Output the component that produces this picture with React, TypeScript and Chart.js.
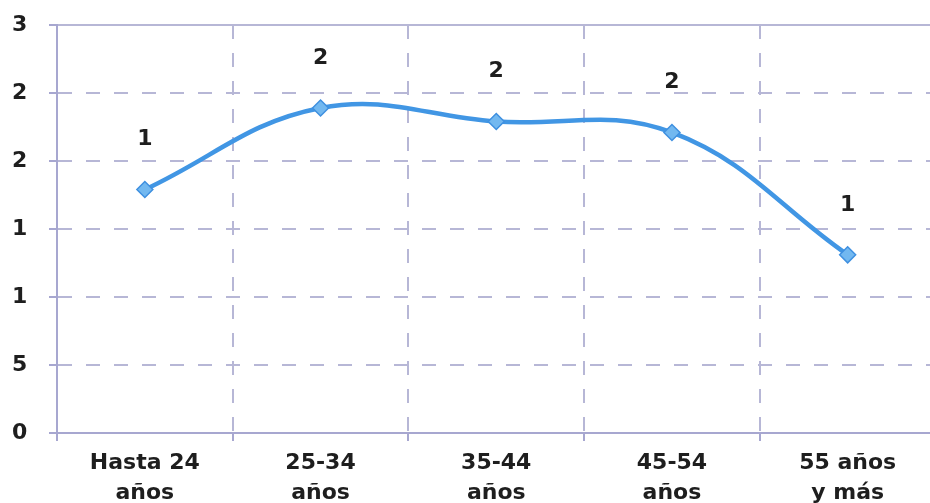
import React, { useEffect, useRef } from "react";
import { Chart, registerables } from "chart.js";

Chart.register(...registerables);

const categories: string[][] = [
  ["Hasta 24", "años"],
  ["25-34", "años"],
  ["35-44", "años"],
  ["45-54", "años"],
  ["55 años", "y más"],
];
const values: number[] = [1.79, 2.39, 2.29, 2.21, 1.31];
const dataLabels: string[] = ["1", "2", "2", "2", "1"];
const yTickLabels: string[] = ["0", "5", "1", "1", "2", "2", "3"];

const FONT = "'DejaVu Sans', 'Liberation Sans', Arial, sans-serif";
const GRID = "#b7b7d6";
const AXIS = "#a7a7d0";
const DASH = [14, 14];

const labelPlugin = {
  id: "pointLabels",
  afterDatasetsDraw(chart: any) {
    const ctx = chart.ctx;
    const meta = chart.getDatasetMeta(0);
    ctx.save();
    ctx.font = `bold 22px ${FONT}`;
    ctx.fillStyle = "#1e1e1e";
    ctx.textAlign = "center";
    ctx.textBaseline = "middle";
    meta.data.forEach((pt: any, i: number) => {
      ctx.fillText(dataLabels[i], pt.x, pt.y - 50);
    });
    ctx.restore();
  },
};

export default function App() {
  const ref = useRef<HTMLCanvasElement | null>(null);
  useEffect(() => {
    if (!ref.current) return;
    const chart = new Chart(ref.current, {
      type: "line",
      data: {
        labels: categories,
        datasets: [
          {
            data: values,
            borderColor: "#4196e4",
            borderWidth: 4.5,
            tension: 0.4,
            pointStyle: "rectRot",
            pointRadius: 8,
            pointBackgroundColor: "#72b8f0",
            pointBorderColor: "#3f90e0",
            pointBorderWidth: 1.5,
            fill: false,
          },
        ],
      },
      options: {
        animation: false,
        responsive: false,
        devicePixelRatio: 1,
        layout: { padding: { top: 25, right: 6.5, left: 12, bottom: 0 } },
        plugins: { legend: { display: false }, tooltip: { enabled: false } },
        scales: {
          x: {
            offset: true,
            grid: {
              offset: true,
              color: GRID,
              lineWidth: 2,
              tickLength: 8,
              tickColor: AXIS,
              tickWidth: 2,
            },
            border: { display: true, color: AXIS, width: 2, dash: DASH },
            ticks: {
              color: "#1e1e1e",
              font: { family: FONT, size: 22, weight: "bold", lineHeight: 1.36 },
              padding: 7,
              maxRotation: 0,
              autoSkip: false,
            },
            afterFit: (s: any) => {
              s.height = 70;
            },
          },
          y: {
            min: 0,
            max: 3,
            ticks: {
              stepSize: 0.5,
              color: "#1e1e1e",
              font: { family: FONT, size: 22, weight: "bold" },
              padding: 2,
              crossAlign: "far",
              callback: (_v: any, i: number) => yTickLabels[i],
            },
            grid: {
              color: GRID,
              lineWidth: 2,
              tickLength: 8,
              tickColor: AXIS,
              tickWidth: 2,
            },
            border: {
              display: true,
              color: AXIS,
              width: 2,
              dash: (ctx: any) => (ctx.tick && ctx.tick.value === 3 ? [] : DASH),
            },
            afterFit: (s: any) => {
              s.width = 45;
            },
          },
        },
      },
      plugins: [labelPlugin],
    });
    return () => chart.destroy();
  }, []);
  return (
    <div
      style={{
        position: "fixed",
        left: 0,
        top: 0,
        width: 930,
        height: 503,
        overflow: "hidden",
        background: "#fff",
      }}
    >
      <canvas ref={ref} width={945} height={503} style={{ width: 945, height: 503, display: "block" }} />
    </div>
  );
}
